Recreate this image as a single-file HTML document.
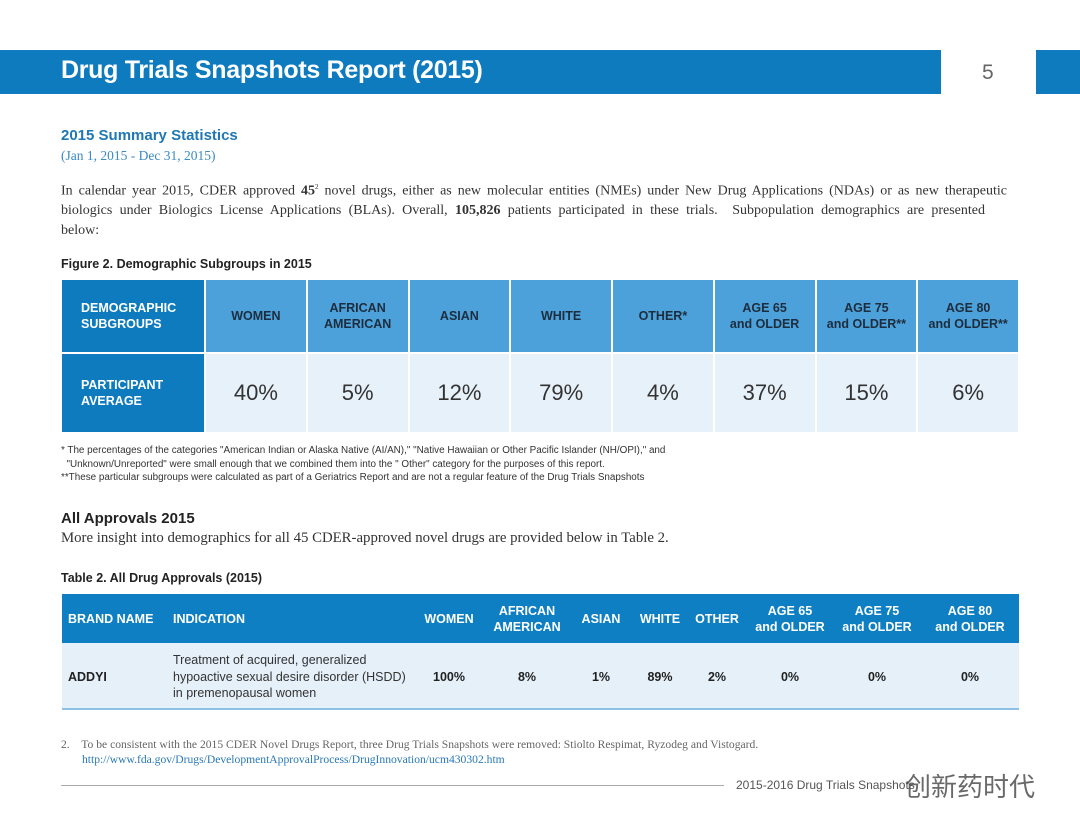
<!DOCTYPE html>
<html><head><meta charset="utf-8">
<style>
*{margin:0;padding:0;box-sizing:border-box}
body{width:1080px;height:834px;background:#fff;position:relative;overflow:hidden;font-family:"Liberation Sans",sans-serif}
.a{position:absolute}
.serif{font-family:"Liberation Serif",serif}
.c{display:flex;align-items:center;justify-content:center;text-align:center}
.hc{background:#4da1da;color:#1d2d3d;font-weight:bold;font-size:12.5px;line-height:16px}
.dc{background:#e7f1fa;color:#333;font-size:22px}
.th{color:#fff;font-weight:bold;font-size:12.5px;line-height:16px}
.td{color:#222;font-weight:bold;font-size:12.5px}
.jl{display:block;text-align:justify;text-align-last:justify;white-space:nowrap}
</style></head><body>
<div class="a" style="left:0;top:50px;width:941px;height:44px;background:#0f7bbf"></div>
<div class="a" style="left:61px;top:56px;color:#fff;font-size:25px;font-weight:bold;letter-spacing:-0.3px">Drug Trials Snapshots Report (2015)</div>
<div class="a" style="left:982px;top:61px;color:#666;font-size:21px">5</div>
<div class="a" style="left:1036px;top:50px;width:44px;height:44px;background:#0f7bbf"></div>

<div class="a" style="left:61px;top:127px;color:#1f78b4;font-size:15px;font-weight:bold">2015 Summary Statistics</div>
<div class="a serif" style="left:61px;top:148px;color:#3a8ac4;font-size:13.5px">(Jan 1, 2015 - Dec 31, 2015)</div>
<div class="a serif" style="left:61px;top:178px;color:#333;font-size:14px;line-height:19.5px">
<span class="jl" style="width:946px">In calendar year 2015, CDER approved <b>45</b><sup style="font-size:7px">2</sup> novel drugs, either as new molecular entities (NMEs) under New Drug Applications (NDAs) or as new therapeutic</span>
<span class="jl" style="width:924px">biologics under Biologics License Applications (BLAs). Overall, <b>105,826</b> patients participated in these trials.&nbsp; Subpopulation demographics are presented</span>
<span style="display:block">below:</span></div>

<div class="a" style="left:61px;top:257px;color:#222;font-size:12.5px;font-weight:bold">Figure 2. Demographic Subgroups in 2015</div>

<div class="a c" style="left:62px;top:280px;width:142px;height:72px;background:#0f7bbf;color:#fff;font-weight:bold;font-size:12.5px;justify-content:flex-start;text-align:left;padding-left:19px;line-height:16px">DEMOGRAPHIC<br>SUBGROUPS</div>
<div class="a c" style="left:62px;top:352px;width:142px;height:80px;background:#0f7bbf;color:#fff;font-weight:bold;font-size:12.5px;justify-content:flex-start;text-align:left;padding-left:19px;line-height:16px;border-top:2px solid #fff">PARTICIPANT<br>AVERAGE</div>
<div id="fig"></div>

<div class="a" style="left:61px;top:444px;color:#333;font-size:9.9px;line-height:13.5px;white-space:nowrap">* The percentages of the categories "American Indian or Alaska Native (AI/AN)," "Native Hawaiian or Other Pacific Islander (NH/OPI)," and<br>&nbsp;&nbsp;"Unknown/Unreported" were small enough that we combined them into the " Other" category for the purposes of this report.<br>**These particular subgroups were calculated as part of a Geriatrics Report and are not a regular feature of the Drug Trials Snapshots</div>

<div class="a" style="left:61px;top:510px;color:#222;font-size:15px;font-weight:bold">All Approvals 2015</div>
<div class="a serif" style="left:61px;top:530px;color:#333;font-size:14.8px;white-space:nowrap">More insight into demographics for all 45 CDER-approved novel drugs are provided below in Table 2.</div>
<div class="a" style="left:61px;top:571px;color:#222;font-size:12.5px;font-weight:bold">Table 2. All Drug Approvals (2015)</div>

<div class="a" style="left:62px;top:594px;width:957px;height:49px;background:#0f7fc4"></div>
<div class="a" style="left:62px;top:643px;width:957px;height:67px;background:#e5f0f9;border-bottom:2px solid #8cc0e4"></div>
<div id="t2"></div>
<div class="a" style="left:173px;top:652px;color:#333;font-size:12.5px;line-height:16.5px">Treatment of acquired, generalized<br>hypoactive sexual desire disorder (HSDD)<br>in premenopausal women</div>

<div class="a serif" style="left:61px;top:737px;color:#666;font-size:11.6px;line-height:15px;white-space:nowrap">2.&nbsp;&nbsp;&nbsp;&nbsp;To be consistent with the 2015 CDER Novel Drugs Report, three Drug Trials Snapshots were removed: Stiolto Respimat, Ryzodeg and Vistogard.<br><span style="margin-left:21px;color:#2a78b8">http://www.fda.gov/Drugs/DevelopmentApprovalProcess/DrugInnovation/ucm430302.htm</span></div>
<div class="a" style="left:61px;top:785px;width:663px;height:1px;background:#aaa"></div>
<div class="a" style="left:736px;top:778px;color:#555;font-size:12px">2015-2016 Drug Trials Snapshots</div>
<div class="a" style="left:905px;top:767px;color:#444;font-size:26px;font-family:'Liberation Sans','Noto Sans CJK SC',sans-serif;opacity:.8">创新药时代</div>

<script>
const figCats=["WOMEN","AFRICAN<br>AMERICAN","ASIAN","WHITE","OTHER*","AGE 65<br>and OLDER","AGE 75<br>and OLDER**","AGE 80<br>and OLDER**"];
const figVals=["40%","5%","12%","79%","4%","37%","15%","6%"];
const fig=document.getElementById('fig');
const cw=(1018-204)/figCats.length;
figCats.forEach((c,i)=>{
  const x=204+i*cw;
  const h=document.createElement('div');
  h.className='a c hc';
  h.style.cssText=`left:${x}px;top:280px;width:${cw}px;height:72px;border-left:2px solid #fff`;
  h.innerHTML=c;
  
  
  fig.appendChild(h);
  const d=document.createElement('div');
  d.className='a c dc';
  d.style.cssText=`left:${x}px;top:352px;width:${cw}px;height:80px;border-left:2px solid #fff;border-top:2px solid #fff`;
  d.textContent=figVals[i];
  
  
  fig.appendChild(d);
});
const t2Cols=["WOMEN","AFRICAN<br>AMERICAN","ASIAN","WHITE","OTHER","AGE 65<br>and OLDER","AGE 75<br>and OLDER","AGE 80<br>and OLDER"];
const t2Vals=["100%","8%","1%","89%","2%","0%","0%","0%"];
const t2Centers=[449,527,601,660,717,790,877,970];
const t2=document.getElementById('t2');
function add(txt,cls,l,t,w,h){
  const e=document.createElement('div');
  e.className='a c '+cls;
  e.style.cssText=`left:${l}px;top:${t}px;width:${w}px;height:${h}px`;
  e.innerHTML=txt;
  t2.appendChild(e);
  return e;
}
let e=add("BRAND NAME","th",68,594,100,49);e.style.justifyContent='flex-start';


e=add("INDICATION","th",173,594,100,49);e.style.justifyContent='flex-start';


e=add("ADDYI","td",68,643,60,67);e.style.justifyContent='flex-start';


t2Cols.forEach((c,i)=>{
  let h=add(c,"th",t2Centers[i]-45,594,90,49);
  
  
  let d=add(t2Vals[i],"td",t2Centers[i]-45,643,90,67);
  
  
});
</script>
</body></html>
